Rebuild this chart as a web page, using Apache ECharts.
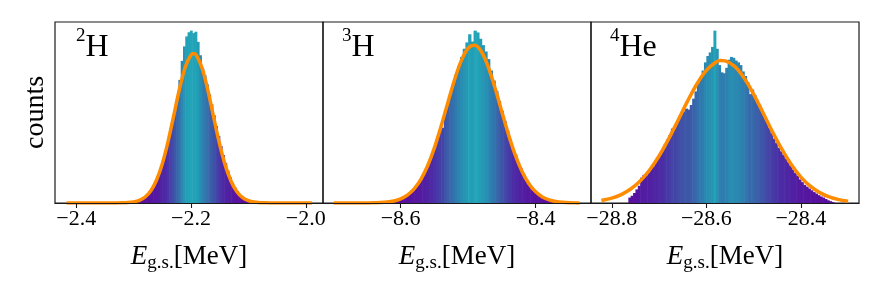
<!DOCTYPE html>
<html><head><meta charset="utf-8">
<script src="https://cdn.jsdelivr.net/npm/echarts@6/dist/echarts.min.js"></script>
<style>html,body{margin:0;padding:0;background:#fff}#c{width:881px;height:294px}</style>
</head><body><div id="c"></div>
<script>
// ---------------- data ----------------
const panelLabels = [['2', 'H'], ['3', 'H'], ['4', 'He']];
const axisTitle = '{e|E}{s|g.s.}{r|[MeV]}';
const yTitle = 'counts';

const ticks1 = [-2.4, -2.2, -2.0];
const ticks2 = [-8.6, -8.4];
const ticks3 = [-28.8, -28.6, -28.4];

// histogram bins: first edge, bin width, heights
const hist1Start = -2.314, hist1Width = 0.004;
const hist1Counts = [0.2,0.3,0.4,0.6,0.8,1.2,1.7,2.3,3.2,4.3,5.8,7.6,9.8,12.4,15.6,19.4,23.6,28.4,33.6,39.3,45.4,51.6,58.5,68.0,78.5,86.5,92.0,94.3,95.2,93.8,94.6,89.0,81.6,74.5,70.5,65.5,60.0,54.5,48.5,42.5,37.0,31.5,26.5,22.0,17.8,14.2,11.2,8.7,6.6,5.0,3.7,2.7,1.9,1.3,0.9,0.6,0.3];

const hist2Start = -8.620, hist2Width = 0.004;
const hist2Counts = [0.6,0.8,1.1,1.5,2.0,2.6,3.3,4.4,5.4,7.0,8.5,10.8,12.8,15.9,18.6,22.6,26.0,30.8,35.3,39.0,41.5,50.6,55.0,61.2,65.4,71.0,75.6,80.5,85.0,88.5,93.0,89.0,95.0,94.0,90.5,87.0,83.5,79.3,73.0,67.5,61.8,56.2,50.8,45.3,40.0,35.2,28.8,26.6,22.5,19.1,15.8,13.2,10.7,8.6,7.0,5.5,4.3,3.3,2.6,2.0,1.5,1.1,0.8];

const hist3Start = -28.765, hist3Width = 0.005;
const hist3Counts = [3,4,5.5,7.5,9.5,14,15.5,15,16.5,18.5,20,22.5,24.5,27,29.5,32.5,35,37.5,41,41.5,44,46.5,49,50.5,52,51.5,54,57.5,61.5,66,69.5,73,77.5,81,83,86,95,85,76,72,71.5,74.5,79,80.5,80,78.5,77.5,76,72.5,70,66.5,60,62.5,59.5,56.5,54,51,48,44.5,41.5,38.5,35.5,33,30.5,28.5,26.5,24.5,22.5,20.5,18.5,16.5,15,13,11.5,10,9,8,7,6,5.2,4.3,3.6,3,2.2,1.5,1,0.5];

// fitted curves
const fit1X = [-2.417,-2.41,-2.40,-2.39,-2.38,-2.37,-2.36,-2.35,-2.34,-2.33,-2.32,-2.31,-2.30,-2.29,-2.28,-2.27,-2.26,-2.25,-2.24,-2.23,-2.22,-2.21,-2.20,-2.195,-2.19,-2.18,-2.17,-2.16,-2.15,-2.14,-2.13,-2.12,-2.11,-2.10,-2.09,-2.08,-2.07,-2.06,-2.05,-2.04,-2.03,-2.02,-2.01,-2.00,-1.989];
const fit1Y = [0,0,0,0,0,0,0,0,0.01,0.02,0.08,0.23,0.61,1.48,3.32,6.80,12.7,21.7,33.9,48.4,63.1,75.1,81.8,82.5,81.3,73.9,61.4,46.6,32.3,20.5,11.9,6.27,3.03,1.34,0.54,0.20,0.07,0.02,0,0,0,0,0,0,0];

const fit2X = [-8.699,-8.69,-8.68,-8.67,-8.66,-8.65,-8.64,-8.63,-8.62,-8.61,-8.60,-8.59,-8.58,-8.57,-8.56,-8.55,-8.54,-8.53,-8.52,-8.51,-8.50,-8.49,-8.48,-8.47,-8.46,-8.45,-8.44,-8.43,-8.42,-8.41,-8.40,-8.39,-8.38,-8.37,-8.36,-8.35,-8.34,-8.335];
const fit2Y = [0,0,0,0,0.01,0.04,0.09,0.23,0.52,1.12,2.27,4.33,7.73,13.0,20.5,30.4,42.4,55.4,68.1,78.6,85.3,86.9,83.2,74.8,63.2,50.1,37.4,26.2,17.2,10.6,6.18,3.37,1.73,0.83,0.38,0.16,0.06,0.04];

const fit3X = [-28.822,-28.80,-28.78,-28.76,-28.74,-28.72,-28.70,-28.68,-28.66,-28.64,-28.62,-28.60,-28.58,-28.57,-28.56,-28.54,-28.52,-28.50,-28.48,-28.46,-28.44,-28.42,-28.40,-28.38,-28.36,-28.34,-28.32,-28.30];
const fit3Y = [1.40,2.67,4.65,7.69,12.1,18.2,25.9,35.2,45.5,56.0,65.6,73.1,77.6,78.5,78.3,75.3,68.9,60.0,49.7,39.2,29.5,21.1,14.3,9.27,5.71,3.35,1.87,0.99];

const xRanges = [[-2.437, -1.970], [-8.715, -8.318], [-28.844, -28.277]];

// ---------------- style ----------------
const SERIF = '"Liberation Serif", "DejaVu Serif", serif';
const GRID_LEFT = [55, 323, 591], GRID_TOP = 22, GRID_W = 268, GRID_H = 181;
const STOPS = [[0,[90,12,158]],[0.3,[76,44,166]],[0.55,[62,88,168]],[0.8,[43,132,176]],[1,[34,165,184]]];
function cmap(t){
  t = Math.max(0, Math.min(1, t));
  for (let i = 1; i < STOPS.length; i++) {
    const [t1, c1] = STOPS[i], [t0, c0] = STOPS[i-1];
    if (t <= t1) { const f = (t - t0) / (t1 - t0); return 'rgb(' + c0.map((v, j) => Math.round(v + (c1[j] - v) * f)).join(',') + ')'; }
  }
  return 'rgb(34,165,184)';
}
function fmt(v){ return (v < 0 ? '\u2212' : '') + Math.abs(v).toFixed(1); }

const panels = [
  {start: hist1Start, width: hist1Width, counts: hist1Counts, fx: fit1X, fy: fit1Y, ticks: ticks1},
  {start: hist2Start, width: hist2Width, counts: hist2Counts, fx: fit2X, fy: fit2Y, ticks: ticks2},
  {start: hist3Start, width: hist3Width, counts: hist3Counts, fx: fit3X, fy: fit3Y, ticks: ticks3}
];

const grid = [], xAxis = [], yAxis = [], series = [], graphic = [];
panels.forEach((p, i) => {
  const maxH = Math.max(...p.counts);
  grid.push({left: GRID_LEFT[i], top: GRID_TOP, width: GRID_W, height: GRID_H, show: true, borderColor: '#1a1a1a', borderWidth: 1.2, backgroundColor: 'rgba(0,0,0,0)'});
  xAxis.push({
    type: 'value', gridIndex: i, min: xRanges[i][0], max: xRanges[i][1], z: 10,
    axisLine: {show: true, lineStyle: {color: '#1a1a1a', width: 1.2}},
    splitLine: {show: false},
    axisTick: {show: true, length: 5, customValues: p.ticks, lineStyle: {color: '#1a1a1a', width: 1.1}},
    axisLabel: {customValues: p.ticks, formatter: fmt, fontFamily: SERIF, fontSize: 22, color: '#000', margin: 5},
    name: axisTitle, nameLocation: 'middle', nameGap: 38,
    nameTextStyle: {color: '#000', fontFamily: SERIF, fontSize: 27, rich: {
      e: {fontFamily: SERIF, fontSize: 27, fontStyle: 'italic', color: '#000', verticalAlign: 'middle'},
      s: {fontFamily: SERIF, fontSize: 19, color: '#000', padding: [13, 0, 0, 0], verticalAlign: 'middle'},
      r: {fontFamily: SERIF, fontSize: 27, color: '#000', verticalAlign: 'middle'}
    }}
  });
  yAxis.push({
    type: 'value', gridIndex: i, min: 0, max: 1.05 * maxH,
    axisLine: {show: false}, axisTick: {show: false}, axisLabel: {show: false}, splitLine: {show: false},
    name: i === 0 ? yTitle : '', nameLocation: 'middle', nameRotate: 90, nameGap: 5,
    nameTextStyle: {color: '#000', fontFamily: SERIF, fontSize: 28}
  });
  const data = p.counts.map((c, k) => [p.start + k * p.width, p.start + (k + 1) * p.width, c]);
  series.push({
    type: 'custom', xAxisIndex: i, yAxisIndex: i, clip: true, z: 2,
    encode: {x: [0, 1], y: 2},
    data: data,
    renderItem: (params, api) => {
      const h = api.value(2);
      const a = api.coord([api.value(0), h]);
      const b = api.coord([api.value(1), 0]);
      return {type: 'rect', shape: {x: a[0], y: a[1], width: b[0] - a[0] + 0.6, height: b[1] - a[1]},
              style: {fill: cmap(h / maxH)}};
    }
  });
  series.push({
    type: 'line', xAxisIndex: i, yAxisIndex: i, z: 5, clip: true,
    data: p.fx.map((x, k) => [x, p.fy[k]]),
    smooth: 0.3, symbol: 'none', showSymbol: false,
    lineStyle: {color: '#ff8c00', width: 3.5}
  });
  graphic.push({
    type: 'text', left: GRID_LEFT[i] + (i === 0 ? 21 : 19), top: 27, z: 20,
    style: {text: '{s|' + panelLabels[i][0] + '}{m|' + panelLabels[i][1] + '}', fill: '#000',
      rich: {
        s: {fontFamily: SERIF, fontSize: 19, fill: '#000', color: '#000', padding: [0, 0, 22, 0]},
        m: {fontFamily: SERIF, fontSize: 32, fill: '#000', color: '#000'}
      }}
  });
});

const chart = echarts.init(document.getElementById('c'), null, {renderer: 'canvas'});
chart.setOption({animation: false, backgroundColor: '#fff', grid, xAxis, yAxis, series, graphic});
</script>
</body></html>
